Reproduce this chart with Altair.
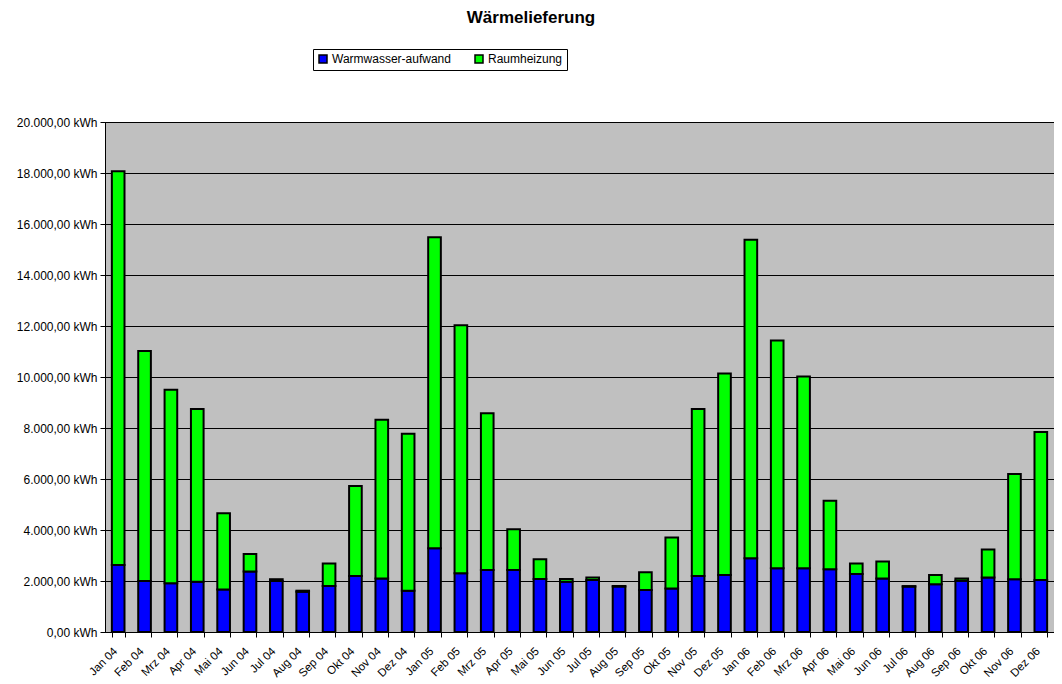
import altair as alt
import pandas as pd

months = ["Jan 04", "Feb 04", "Mrz 04", "Apr 04", "Mai 04", "Jun 04", "Jul 04", "Aug 04",
          "Sep 04", "Okt 04", "Nov 04", "Dez 04",
          "Jan 05", "Feb 05", "Mrz 05", "Apr 05", "Mai 05", "Jun 05", "Jul 05", "Aug 05",
          "Sep 05", "Okt 05", "Nov 05", "Dez 05",
          "Jan 06", "Feb 06", "Mrz 06", "Apr 06", "Mai 06", "Jun 06", "Jul 06", "Aug 06",
          "Sep 06", "Okt 06", "Nov 06", "Dez 06"]

warmwasser = [2630, 2000, 1910, 1970, 1670, 2370, 2000, 1580, 1800, 2200, 2100, 1620,
              3280, 2300, 2430, 2430, 2080, 1970, 2040, 1780, 1650, 1710, 2200, 2240,
              2890, 2500, 2500, 2460, 2270, 2100, 1780, 1870, 2010, 2140, 2070, 2040]

raumheizung = [15440, 9020, 7590, 6780, 2990, 690, 70, 40, 890, 3530, 6220, 6150,
               12200, 9730, 6150, 1600, 770, 110, 100, 20, 690, 2000, 6550, 7900,
               12490, 8930, 7520, 2690, 420, 660, 20, 370, 90, 1100, 4130, 5800]

series = ["Warmwasser-aufwand", "Raumheizung"]
colors = ["#0000FF", "#00FF00"]
title_text = "Wärmelieferung"

rows = []
for m, w, r in zip(months, warmwasser, raumheizung):
    rows.append({"Monat": m, "Serie": series[0], "Wert": w, "ord": 0})
    rows.append({"Monat": m, "Serie": series[1], "Wert": r, "ord": 1})
df = pd.DataFrame(rows)

FONT = "Arial, Liberation Sans, sans-serif"

label_expr = ("replace(replace(replace(format(datum.value, ',.2f'), ',', '#'), '.', ','), '#', '.') + ' kWh'")

bars = alt.Chart(df).mark_bar(stroke="black", strokeWidth=2).encode(
    x=alt.X("Monat:N", sort=months,
            scale=alt.Scale(paddingInner=0.52, paddingOuter=0.26),
            axis=alt.Axis(title=None, labelAngle=-45, tickBand="extent",
                          labelFontSize=11.5, labelFont=FONT, labelColor="black",
                          tickColor="black", tickSize=5, domainColor="black",
                          labelPadding=8, labelOffset=-7, grid=False)),
    y=alt.Y("Wert:Q", stack="zero",
            scale=alt.Scale(domain=[0, 20000], nice=False),
            axis=alt.Axis(title=None, values=list(range(0, 20001, 2000)),
                          labelExpr=label_expr, labelFontSize=12, labelFont=FONT,
                          labelColor="black", tickColor="black", tickSize=5,
                          domainColor="black", labelPadding=3,
                          grid=True, gridColor="black", gridOpacity=1, gridWidth=1)),
    color=alt.Color("Serie:N", sort=series,
                    scale=alt.Scale(domain=series, range=colors),
                    legend=alt.Legend(title=None, orient="none", legendX=208, legendY=-73,
                                      direction="horizontal", fillColor="white",
                                      strokeColor="black", padding=4,
                                      symbolType="square", symbolSize=64,
                                      symbolStrokeColor="black", symbolStrokeWidth=1.5,
                                      labelFontSize=12, labelFont=FONT, labelColor="black",
                                      columnPadding=21, labelOffset=3)),
    order=alt.Order("ord:Q", sort="ascending"),
)

title = alt.Chart(pd.DataFrame({"t": [title_text]})).mark_text(
    font=FONT, fontSize=17, fontWeight="bold", color="black", align="center", baseline="middle"
).encode(
    text="t:N", x=alt.value(426), y=alt.value(-104)
)

chart = alt.layer(bars, title).properties(
    width=949, height=510,
    autosize=alt.AutoSizeParams(type="none"),
    padding={"left": 97, "top": 114, "right": 0, "bottom": 52},
).configure_view(
    fill="#C0C0C0", stroke="black", strokeWidth=1
)

chart.save("out.html", embed_options={"renderer": "svg", "actions": False})
